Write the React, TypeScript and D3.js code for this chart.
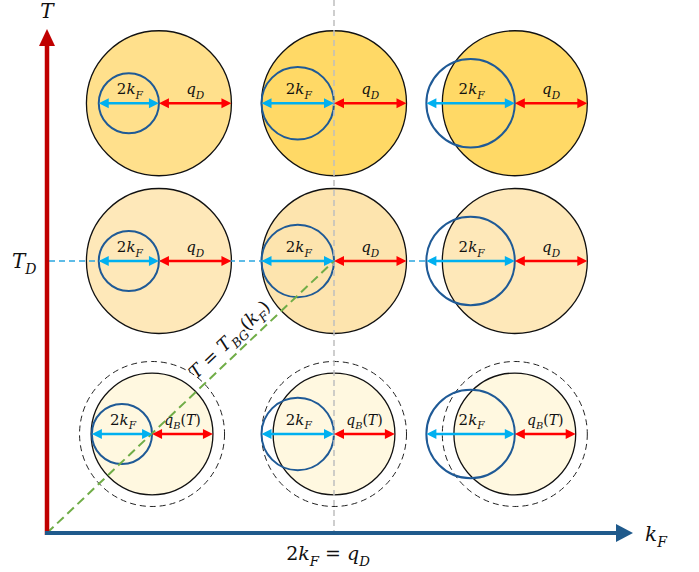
import React from "react";
import * as d3 from "d3";

// ---- data (units relative to q_D and T_D) ----
const rowLabels = ["T > T_D", "T = T_D", "T < T_D"];
const rowT = [1.58, 1.0, 0.364];
const colPos = [0.39, 1.0, 1.63]; // position of each column on k_F axis (in units of q_D)
const colPosBottom = [0.366, 1.0, 1.63];
const kFDiam = [0.83, 1.0, 1.22]; // 2k_F / q_D
const qBottom = 0.84; // q_B(T)/q_D in the lowest row
const fills = [
  ["#FFE08C", "#FFD966", "#FFD966"],
  ["#FEE8B9", "#FDE4AE", "#FEE8B9"],
  ["#FFF8E0", "#FFF8E0", "#FFF8E0"],
];

const W = 699;
const H = 572;
const ox = 47;
const oy = 533;

const x = d3.scaleLinear().domain([0, 1]).range([ox, 334]);
const y = d3.scaleLinear().domain([0, 1]).range([oy, 261]);
const r = d3.scaleLinear().domain([0, 1]).range([0, 72.5]);

const FONT = "'DejaVu Serif', 'Liberation Serif', serif";

function Sub({ x: tx, y: ty, parts, size = 15, anchor = "middle", transform }: any) {
  const shift = size * 0.3;
  let pendingUp = false;
  return (
    <text x={tx} y={ty} fontFamily={FONT} fontSize={size} textAnchor={anchor} fill="#111" transform={transform}>
      {parts.map((p: any, i: number) => {
        if (p.sub) {
          pendingUp = true;
          return (
            <tspan key={i} dy={shift} fontSize={size * 0.7} fontStyle="italic">{p.t}</tspan>
          );
        }
        const dy = pendingUp ? -shift : undefined;
        pendingUp = false;
        return (
          <tspan key={i} dy={dy} fontStyle={p.it ? "italic" : "normal"}>{p.t}</tspan>
        );
      })}
    </text>
  );
}

function DArrow({ x1, x2, yy, color }: any) {
  const hl = 10, hw = 5;
  const d1 = `M${x1},${yy} L${x1 + hl},${yy - hw} L${x1 + hl},${yy + hw} Z`;
  const d2 = `M${x2},${yy} L${x2 - hl},${yy - hw} L${x2 - hl},${yy + hw} Z`;
  return (
    <g>
      <line x1={x1 + hl - 1} x2={x2 - hl + 1} y1={yy} y2={yy} stroke={color} strokeWidth={2.5} />
      <path d={d1} fill={color} />
      <path d={d2} fill={color} />
    </g>
  );
}

export default function App() {
  const cells: any[] = [];
  rowT.forEach((t, ri) => {
    colPos.forEach((cp, ci) => {
      const cx = ri === 2 ? x(colPosBottom[ci]) : x(cp);
      const cy = y(t);
      const bigR = ri === 2 ? r(qBottom) : r(1);
      const blueR = r(kFDiam[ci]) / 2;
      cells.push({ ri, ci, cx, cy, bigR, blueR, fill: fills[ri][ci] });
    });
  });

  return (
    <svg width={W} height={H} style={{ position: "absolute", left: 0, top: 0, background: "#fff" }}>
      {/* big circles */}
      {cells.map((c, i) => (
        <g key={"c" + i}>
          {c.ri === 2 && (
            <circle cx={c.cx} cy={c.cy} r={r(1)} fill="none" stroke="#222" strokeWidth={1} strokeDasharray="6 4" />
          )}
          <circle cx={c.cx} cy={c.cy} r={c.bigR} fill={c.fill} stroke="#111" strokeWidth={1.3} />
        </g>
      ))}
      {/* Fermi circles */}
      {cells.map((c, i) => (
        <circle key={"b" + i} cx={c.cx - c.blueR} cy={c.cy} r={c.blueR} fill="none" stroke="#1F5A96" strokeWidth={2} />
      ))}
      {/* guide lines */}
      <line x1={x(1)} x2={x(1)} y1={0} y2={oy} stroke="#BFBFBF" strokeWidth={1.5} strokeDasharray="6 4" />
      <line x1={ox + 2} x2={cells[5].cx - 2 * cells[5].blueR} y1={y(1)} y2={y(1)} stroke="#2AA7DF" strokeWidth={1.5} strokeDasharray="6 4" />
      <line x1={x(0)} y1={y(0)} x2={x(1)} y2={y(1)} stroke="#70AD47" strokeWidth={2} strokeDasharray="9 5" />
      {/* arrows */}
      {cells.map((c, i) => (
        <g key={"a" + i}>
          <DArrow x1={c.cx - 2 * c.blueR} x2={c.cx} yy={c.cy} color="#00B0F0" />
          <DArrow x1={c.cx} x2={c.cx + c.bigR} yy={c.cy} color="#FF0000" />
          <Sub x={c.cx - c.blueR + 1} y={c.cy - 9} size={15} parts={[{ t: "2" }, { t: "k", it: true }, { t: "F", sub: true }]} />
          {c.ri === 2 ? (
            <Sub x={c.cx + c.bigR / 2} y={c.cy - 9} size={14} parts={[{ t: "q", it: true }, { t: "B", sub: true }, { t: "(" }, { t: "T", it: true }, { t: ")" }]} />
          ) : (
            <Sub x={c.cx + c.bigR / 2} y={c.cy - 9} size={15} parts={[{ t: "q", it: true }, { t: "D", sub: true }]} />
          )}
        </g>
      ))}
      {/* axes */}
      <line x1={ox} x2={ox} y1={oy + 2} y2={44} stroke="#C00000" strokeWidth={4.5} />
      <path d={`M${ox},29 L${ox - 8},46 L${ox + 8},46 Z`} fill="#C00000" />
      <line x1={ox - 2} x2={618} y1={oy} y2={oy} stroke="#1F5A8C" strokeWidth={4} />
      <path d={`M633,${oy} L616,${oy - 9} L616,${oy + 9} Z`} fill="#1F5A8C" />
      {/* axis labels */}
      <Sub x={47} y={18} size={20} parts={[{ t: "T", it: true }]} />
      <Sub x={645} y={541} size={20} anchor="start" parts={[{ t: "k", it: true }, { t: "F", sub: true }]} />
      <Sub x={12} y={268} size={20} anchor="start" parts={[{ t: "T", it: true }, { t: "D", sub: true }]} />
      <Sub x={328} y={560} size={19} parts={[{ t: "2" }, { t: "k", it: true }, { t: "F", sub: true }, { t: " = " }, { t: "q", it: true }, { t: "D", sub: true }]} />
      <Sub x={231} y={345} size={18} transform="rotate(-43.5 231 341)" parts={[{ t: "T", it: true }, { t: " = " }, { t: "T", it: true }, { t: "BG", sub: true }, { t: "(" }, { t: "k", it: true }, { t: "F", sub: true }, { t: ")" }]} />
    </svg>
  );
}
